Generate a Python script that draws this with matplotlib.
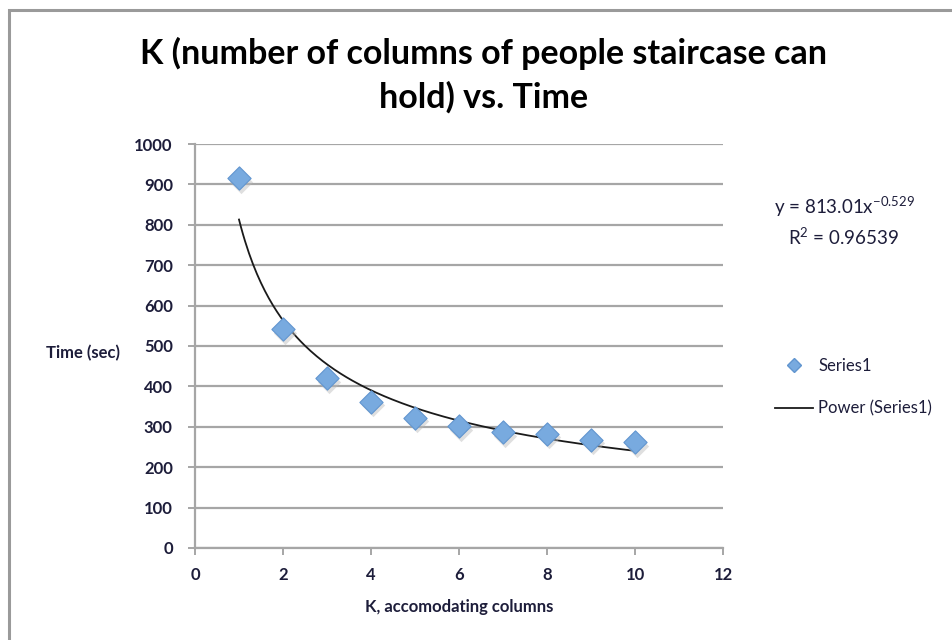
import numpy as np
import matplotlib.pyplot as plt
from matplotlib.lines import Line2D
from matplotlib.patches import Rectangle

# columns the staircase can hold vs. measured time
k_cols = [1, 2, 3, 4, 5, 6, 7, 8, 9, 10]
time_sec = [915, 541, 421, 362, 323, 302, 287, 283, 268, 262]

# power trendline y = a * x^b
fit_a = 813.01
fit_b = -0.529
fit_r2 = 0.96539

x_ticks = [0, 2, 4, 6, 8, 10, 12]
y_ticks = [0, 100, 200, 300, 400, 500, 600, 700, 800, 900, 1000]

plt.rcParams['font.family'] = ['Lato', 'DejaVu Sans']
tick_color = '#1d1d3a'
grid_color = '#a6a6a6'

fig = plt.figure(figsize=(9.53, 6.4), dpi=100)
W, H = 953, 640

# outer chart frame (runs off the right and bottom edges)
fig.patches.append(Rectangle((9 / W, -0.1), 1.2, (H - 10) / H + 0.1, transform=fig.transFigure,
                             fill=False, edgecolor='#9a9a9a', linewidth=2.2))

ax = fig.add_axes([195 / W, (H - 548) / H, (723 - 195) / W, (548 - 144) / H])
ax.set_xlim(0, 12)
ax.set_ylim(0, 1000)
ax.set_xticks(x_ticks)
ax.set_yticks(y_ticks)
ax.grid(axis='y', color=grid_color, linewidth=1.6)
ax.set_axisbelow(True)
for side in ['top', 'right']:
    ax.spines[side].set_visible(False)
for side in ['left', 'bottom']:
    ax.spines[side].set_color(grid_color)
    ax.spines[side].set_linewidth(1.6)
ax.tick_params(colors=grid_color, length=5, width=1.4, direction='out',
               labelcolor=tick_color, labelsize=12)
for lbl in ax.get_xticklabels() + ax.get_yticklabels():
    lbl.set_fontweight('bold')
ax.tick_params(axis='y', pad=11)
ax.tick_params(axis='x', pad=9)

# trendline
xs = np.linspace(1, 10, 200)
ax.plot(xs, fit_a * xs ** fit_b, color='#1a1a1a', linewidth=1.3, zorder=3)

# data points with a soft drop shadow
ax.scatter(np.array(k_cols) + 0.04, np.array(time_sec) - 9, marker='D', s=140,
           color='#b8b8b8', alpha=0.45, linewidths=0, zorder=3)
ax.scatter(k_cols, time_sec, marker='D', s=140, color='#78aadf',
           edgecolors='#6195cf', linewidths=0.8, zorder=4)

ax.set_xlabel('K, accomodating columns', fontsize=12, fontweight='bold',
              color=tick_color, labelpad=11)
fig.text(83 / W, 1 - 353 / H, 'Time (sec)', fontsize=12, fontweight='bold',
         color=tick_color, ha='center', va='center')

fig.text(484 / W, 1 - 75 / H, 'K (number of columns of people staircase can\nhold) vs. Time',
         fontsize=24.5, fontweight='bold', ha='center', va='center',
         linespacing=1.4, color='#000000')

# trendline equation
fig.text(844 / W, 1 - 207 / H, r'y = 813.01x$^{\mathregular{-0.529}}$', fontsize=13.5,
         ha='center', va='center', color=tick_color)
fig.text(844 / W, 1 - 237 / H, r'R$^{\mathregular{2}}$ = 0.96539', fontsize=13.5,
         ha='center', va='center', color=tick_color)

# legend
handles = [Line2D([], [], marker='D', linestyle='none', markersize=7,
                  color='#78aadf', markeredgecolor='#6195cf'),
           Line2D([], [], color='#1a1a1a', linewidth=1.3)]
fig.legend(handles, ['Series1', 'Power (Series1)'], loc='center left',
           bbox_to_anchor=(760 / W, 1 - 387 / H), frameon=False, fontsize=12,
           labelcolor=tick_color, handlelength=2.3, handletextpad=0.3,
           labelspacing=1.6)

fig.savefig('out.png', dpi=100)
